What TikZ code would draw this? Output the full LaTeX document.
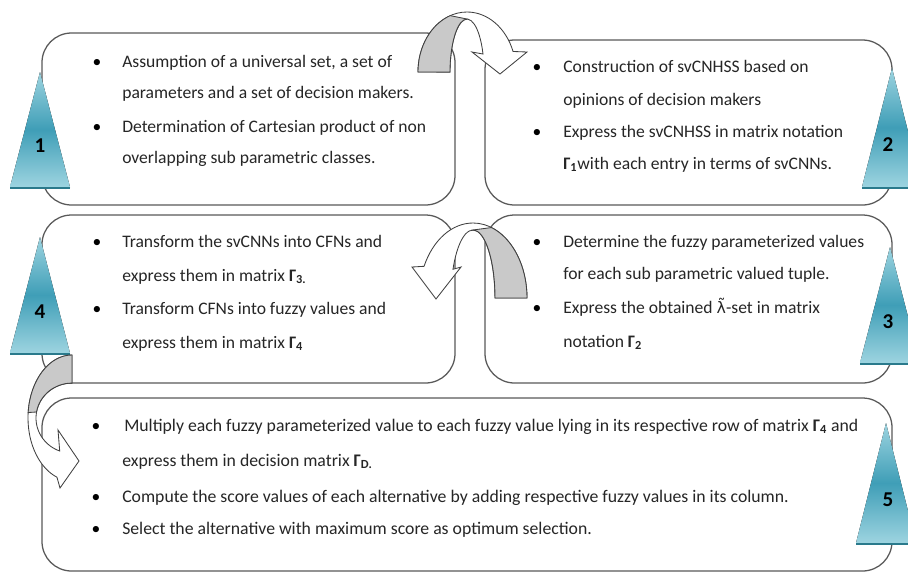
\documentclass[tikz,border=0pt]{standalone}
\usepackage{fontspec}
\setmainfont{Carlito}
\newfontfamily\lamfont[Scale=0.9]{DejaVu Sans}
\definecolor{triLight}{HTML}{9DD4E0}
\definecolor{triDark}{HTML}{3F9EB7}
\definecolor{triEdge}{HTML}{2A7A8C}
\definecolor{arrowGray}{HTML}{C9C9C9}
\newcommand{\Gmat}[1]{\textbf{Γ\textsubscript{#1}}}
\tikzset{
  box/.style={draw=black!65, line width=0.9pt, rounded corners=21pt, fill=white},
  tri/.style={top color=triLight, bottom color=triLight, middle color=triDark},
  triedge/.style={draw=triEdge, line width=2pt},
  num/.style={font=\bfseries\fontsize{15}{15}\selectfont},
  line/.style={anchor=base west, font=\fontsize{12.5}{15}\selectfont, text=black!85,
    inner sep=0pt, text height=9pt, text depth=2.5pt},
  sline/.style={line, font=\fontsize{12.6}{15}\selectfont},
  dot/.style={anchor=base, font=\fontsize{12.5}{15}\selectfont, inner sep=0pt},
  band/.style={draw=black!75, line width=0.6pt, fill=white},
  bandfront/.style={band, fill=arrowGray},
}
\begin{document}
\begin{tikzpicture}[x=0.025cm, y=-0.025cm]
\useasboundingbox (0,0) rectangle (908,574);
\clip (0,0) rectangle (908,574);
% the five boxes
\draw[box] (42,33) rectangle (455,205);
\draw[box] (485,40) rectangle (892,205);
\draw[box] (485,215) rectangle (892,383);
\draw[box] (42,215) rectangle (455,383);
\draw[box] (42,398) rectangle (892,571);
% numbered triangles
\foreach \x/\ya/\yb/\lx/\n in {40/72/187/40/1, 892/68/187/888/2, 890/247/363/888/3, 40/237/353/40/4, 886/423/543/888/5} {
    \fill[tri] (\x,\ya) -- ({\x+30},\yb) -- ({\x-30},\yb) -- cycle;
    \draw[triedge] ({\x-30},{\yb+1}) -- ({\x+30},{\yb+1});
    \node[num] (num\n) at (\lx,{\ya+0.64*(\yb-\ya)}) {\n};
}
% step 1
\foreach \y/\s [count=\i] in {67/{Assumption of a universal set, a set of}, 98/{parameters and a set of decision makers.}, 132/{Determination of Cartesian product of non}, 163/{overlapping sub parametric classes.}}
    \node[line] (one-\i) at (122,\y) {\s};
\foreach \y [count=\i] in {67,132}
    \node[dot] (dotone-\i) at (97,\y) {\textbullet};
% step 2
\foreach \y/\s [count=\i] in {72/{Construction of svCNHSS based on}, 105/{opinions of decision makers}, 137/{Express the svCNHSS in matrix notation}, 169/{\Gmat{1}with each entry in terms of svCNNs.}}
    \node[line] (two-\i) at (563,\y) {\s};
\foreach \y [count=\i] in {72,137}
    \node[dot] (dottwo-\i) at (537,\y) {\textbullet};
% step 3
\foreach \y/\s [count=\i] in {247/{Determine the fuzzy parameterized values}, 279/{for each sub parametric valued tuple.}, 313/{Express the obtained {\lamfont λ̃}-set in matrix}, 347/{notation \Gmat{2}}}
    \node[line] (three-\i) at (563,\y) {\s};
\foreach \y [count=\i] in {247,313}
    \node[dot] (dotthree-\i) at (537,\y) {\textbullet};
% step 4
\foreach \y/\s [count=\i] in {247/{Transform the svCNNs into CFNs and}, 281/{express them in matrix \Gmat{3.}}, 314/{Transform CFNs into fuzzy values and}, 348/{express them in matrix \Gmat{4}}}
    \node[line] (four-\i) at (122,\y) {\s};
\foreach \y [count=\i] in {247,314}
    \node[dot] (dotfour-\i) at (97,\y) {\textbullet};
% step 5
\node[sline] (five-1) at (124,431) {Multiply each fuzzy parameterized value to each fuzzy value lying in its respective row of matrix \Gmat{4} and};
\foreach \y/\s [count=\i from 2] in {466/{express them in decision matrix \Gmat{D.}}, 502/{Compute the score values of each alternative by adding respective fuzzy values in its column.}, 534/{Select the alternative with maximum score as optimum selection.}}
    \node[sline] (five-\i) at (122,\y) {\s};
\foreach \y [count=\i] in {431,502,534}
    \node[dot] (dotfive-\i) at (96,\y) {\textbullet};
% curved arrow 1 -> 2
\draw[band] (418,72) arc[start angle=180, end angle=340, x radius=49, y radius=60]
    -- (527,52) -- (500,74) -- (472,52) -- (483,54)
    arc[start angle=340, end angle=180, x radius=17, y radius=53] -- cycle;
\draw[bandfront] (418,72) arc[start angle=180, end angle=250, x radius=49, y radius=60]
    -- (467,19) arc[start angle=270, end angle=180, x radius=17, y radius=53] -- cycle;
% curved arrow 3 -> 4
\draw[band] (527,298) arc[start angle=0, end angle=-155, x radius=54, y radius=75]
    -- (412,267) -- (436,299) -- (461,267) -- (453,269.3)
    arc[start angle=-155, end angle=0, x radius=22, y radius=68] -- cycle;
\draw[bandfront] (527,298) arc[start angle=0, end angle=-70, x radius=54, y radius=75]
    -- (473,230) arc[start angle=-90, end angle=0, x radius=22, y radius=68] -- cycle;
% curved arrow 4 -> 5
\draw[band] (72,355) arc[start angle=-90, end angle=-250, x radius=44, y radius=63]
    -- (60,488) -- (79,461) -- (58,430) -- (59.7,451)
    arc[start angle=-250, end angle=-90, x radius=36, y radius=35] -- cycle;
\draw[bandfront] (72,355) arc[start angle=-90, end angle=-175, x radius=44, y radius=63]
    -- (36.5,412) arc[start angle=-170, end angle=-90, x radius=36, y radius=35] -- cycle;
\end{tikzpicture}
\end{document}
